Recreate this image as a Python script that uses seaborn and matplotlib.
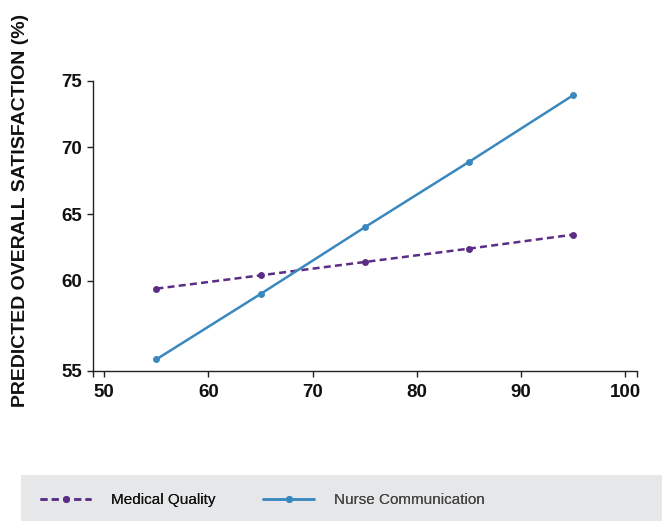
import matplotlib
matplotlib.use("Agg")
import matplotlib.pyplot as plt
from matplotlib.lines import Line2D
from matplotlib.patches import Rectangle
import seaborn as sns
import pandas as pd

# ---- data ----
x_vals = [55, 65, 75, 85, 95]
medical_quality = [59.4, 60.4, 61.4, 62.4, 63.45]
nurse_communication = [54.1, 59.0, 64.0, 68.9, 73.9]
series_names = ["Medical Quality", "Nurse Communication"]
x_ticks = [50, 60, 70, 80, 90, 100]
y_tick_values = [60, 65, 70, 75]
y_tick_labels = ["55", "60", "65", "70", "75"]
y_label = "PREDICTED OVERALL SATISFACTION (%)"

colors = {"Medical Quality": "#5b2d86", "Nurse Communication": "#3a88be"}

sns.set_theme(style="white")
plt.rcParams['font.family'] = ['Liberation Sans', 'DejaVu Sans']

df = pd.DataFrame({
    "x": x_vals * 2,
    "y": medical_quality + nurse_communication,
    "series": [series_names[0]] * len(x_vals) + [series_names[1]] * len(x_vals),
})

W, H = 662, 521
fig = plt.figure(figsize=(W / 100, H / 100), dpi=100)
ax_left, ax_right, ax_top, ax_bottom = 93.3, 636.7, 80.7, 370.5
ax = fig.add_axes([ax_left / W, 1 - ax_bottom / H, (ax_right - ax_left) / W, (ax_bottom - ax_top) / H])

sns.lineplot(data=df, x="x", y="y", hue="series", style="series",
             palette=colors,
             dashes={"Medical Quality": (2.8, 1.7), "Nurse Communication": ""},
             markers={"Medical Quality": "o", "Nurse Communication": "o"},
             markersize=5, markeredgewidth=0, linewidth=1.8,
             ax=ax, legend=False)

ymin = 53.26
xmin, xmax = 48.94, 101.12
ax.set_xlim(xmin, xmax)
ax.set_ylim(ymin, 75)
ax.set_xticks(x_ticks)
ax.set_xticks([xmin, xmax], minor=True)
ax.set_yticks([ymin] + y_tick_values)
ax.set_yticklabels(y_tick_labels)
ax.set_xlabel("")
ax.set_ylabel("")

for s in ["top", "right"]:
    ax.spines[s].set_visible(False)
for s in ["left", "bottom"]:
    ax.spines[s].set_color("#222222")
    ax.spines[s].set_linewidth(1.0)

ax.tick_params(axis="both", which="both", direction="out", length=4, width=1.0,
               color="#222222", bottom=True, left=True)
ax.tick_params(axis="x", which="major", pad=6)
ax.tick_params(axis="y", which="major", pad=4)
for lab in ax.get_xticklabels() + ax.get_yticklabels():
    lab.set_fontsize(13.5)
    lab.set_fontweight("bold")
    lab.set_color("#111111")

fig.text(21 / W, 1 - 210 / H, y_label, rotation=90, va="center", ha="center",
         fontsize=14, fontweight="bold", color="#111111")

# legend band
fig.patches.append(Rectangle((21 / W, 0), 1 - 21 / W, 46 / H, transform=fig.transFigure,
                             facecolor="#e6e7e8", edgecolor="none", zorder=0))

handles = [
    Line2D([0], [0], color=colors[series_names[0]], linewidth=1.8, dashes=(2.8, 1.7),
           marker="o", markersize=5, markeredgewidth=0),
    Line2D([0], [0], color=colors[series_names[1]], linewidth=1.8,
           marker="o", markersize=5, markeredgewidth=0),
]
text_colors = ["#111111", "#444444"]
anchors_x = [40, 263]
fs = 11
fs_px = fs * 100 / 72
for h, name, tc, ax0 in zip(handles, series_names, text_colors, anchors_x):
    leg = fig.legend([h], [name], loc="center left",
                     bbox_to_anchor=(ax0 / W, 1 - 500 / H), frameon=False,
                     borderpad=0, borderaxespad=0, handlelength=51 / fs_px,
                     handletextpad=20 / fs_px,
                     prop={"family": ["Liberation Sans"], "size": fs})
    leg.get_texts()[0].set_color(tc)
    fig.add_artist(leg)

fig.savefig("out.png", dpi=100)
